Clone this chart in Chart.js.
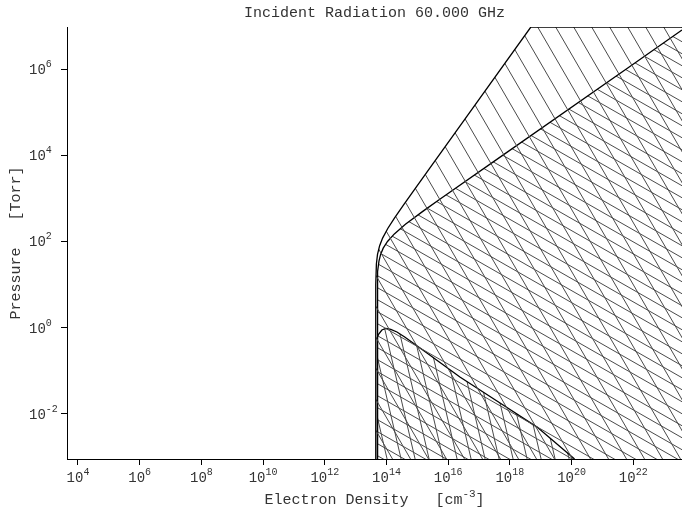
<!DOCTYPE html>
<html>
<head>
<meta charset="utf-8">
<title>Incident Radiation 60.000 GHz</title>
<script src="https://cdn.jsdelivr.net/npm/chart.js@4.4.1/dist/chart.umd.min.js"></script>
<style>
  html, body { margin: 0; padding: 0; background: #ffffff; }
  #wrap { width: 682px; height: 508px; }
</style>
</head>
<body>
<div id="wrap"><canvas id="chart" width="682" height="508"></canvas></div>
<script>
// ---- Axis extents and tick positions ----
const X_MIN = 4.4e3, X_MAX = 3.8e23;      // electron density, cm^-3
const Y_MIN = 8.9e-4, Y_MAX = 9.55e6;     // pressure, Torr
const xTickValues = [1e4, 1e6, 1e8, 1e10, 1e12, 1e14, 1e16, 1e18, 1e20, 1e22];
const yTickValues = [1e-2, 1e0, 1e2, 1e4, 1e6];

// ---- Outer boundary (widest region) ----
const outerDensity  = [4.46e13, 4.49e13, 4.71e13, 5.12e13, 6.0e13, 7.49e13, 1.10e14, 1.81e14, 3.54e14, 7.53e14, 2.5e15, 5.0e16, 4.79e18, 3.8e23];
const outerPressure = [8.9e-4,  10,      30,      50,      80,     120,     200,     350,     700,     1500,    5000,   1e5,    9.55e6,  9.55e6];

// ---- Inner boundary ----
const innerDensity  = [5.0e13, 5.06e13, 5.23e13, 5.71e13, 6.45e13, 7.83e13, 1.08e14, 1.80e14, 4.11e14, 1.5e15, 5.8e15, 5.8e17, 5.8e21, 3.8e23];
const innerPressure = [8.9e-4, 10,      20,      35,      50,      70,      100,     150,     250,     500,    1000,   1e4,    1e6,    8.1e6];

// ---- Low-pressure region ----
const lowDensity  = [5.0e13, 5.0e13, 5.15e13, 5.6e13, 7.1e13, 9.5e13, 1.38e14, 2.18e14, 3.9e14, 2.05e15, 2.4e16, 4.8e17, 7.6e18, 1.25e20];
const lowPressure = [8.9e-4, 0.44,   0.60,    0.71,   0.88,   0.955,  0.91,    0.79,    0.605,  0.258,   0.0714, 0.0178, 0.0049, 8.9e-4];

const TEXT_COLOR = '#333333';
const FONT = '"Liberation Mono", "DejaVu Sans Mono", monospace';

// Repeating line hatch: one line per w x h tile, falling to the right.
function hatch(w, h, color) {
  const c = document.createElement('canvas');
  c.width = w; c.height = h;
  const g = c.getContext('2d');
  g.strokeStyle = color;
  g.lineWidth = 1;
  g.beginPath();
  for (let k = -1; k <= 1; k++) {
    g.moveTo(-w + k * w, -h);
    g.lineTo(2 * w + k * w, 2 * h);
  }
  g.stroke();
  return g.createPattern(c, 'repeat');
}

function toPoints(xs, ys) {
  return xs.map((x, i) => ({ x: x, y: ys[i] }));
}

// Power-of-ten label: "10" followed by a raised exponent.
function powerLabel(v) {
  const e = Math.round(Math.log10(v));
  return { base: '10', exp: String(e) };
}

const textPlugin = {
  id: 'axisText',
  afterDraw(chart) {
    const ctx = chart.ctx;
    const xs = chart.scales.x, ys = chart.scales.y;
    const area = chart.chartArea;
    const baseFont = '14px ' + FONT;
    const expFont = '10px ' + FONT;
    ctx.save();
    ctx.fillStyle = TEXT_COLOR;
    ctx.textBaseline = 'alphabetic';
    ctx.textAlign = 'left';

    // x tick labels, centred under each tick
    xTickValues.forEach(v => {
      const px = xs.getPixelForValue(v);
      const lab = powerLabel(v);
      ctx.font = baseFont; const wb = ctx.measureText(lab.base).width;
      ctx.font = expFont;  const we = ctx.measureText(lab.exp).width;
      const x0 = px - (wb + we) / 2;
      const by = 482;
      ctx.font = baseFont; ctx.fillText(lab.base, x0, by);
      ctx.font = expFont;  ctx.fillText(lab.exp, x0 + wb, by - 7);
    });

    // y tick labels, "10" aligned on a common left edge
    yTickValues.forEach(v => {
      const py = ys.getPixelForValue(v);
      const lab = powerLabel(v);
      ctx.font = baseFont; const wb = ctx.measureText(lab.base).width;
      const x0 = 29;
      const by = py + 5;
      ctx.fillText(lab.base, x0, by);
      ctx.font = expFont; ctx.fillText(lab.exp, x0 + wb, by - 7);
    });

    // chart title
    const cx = (area.left + area.right) / 2;
    ctx.font = '15px ' + FONT;
    ctx.textAlign = 'center';
    ctx.fillText('Incident Radiation 60.000 GHz', cx, 17);

    // x axis title with superscript unit
    const t1 = 'Electron Density   [cm', t2 = '-3', t3 = ']';
    ctx.textAlign = 'left';
    ctx.font = '15px ' + FONT; const w1 = ctx.measureText(t1).width; const w3 = ctx.measureText(t3).width;
    ctx.font = '11px ' + FONT; const w2 = ctx.measureText(t2).width;
    const sx = cx - (w1 + w2 + w3) / 2;
    ctx.font = '15px ' + FONT; ctx.fillText(t1, sx, 504);
    ctx.font = '11px ' + FONT; ctx.fillText(t2, sx + w1, 497);
    ctx.font = '15px ' + FONT; ctx.fillText(t3, sx + w1 + w2, 504);

    // y axis title
    ctx.save();
    ctx.translate(16, (area.top + area.bottom) / 2);
    ctx.rotate(-Math.PI / 2);
    ctx.textAlign = 'center';
    ctx.textBaseline = 'middle';
    ctx.font = '15px ' + FONT;
    ctx.fillText('Pressure   [Torr]', 0, 0);
    ctx.restore();

    ctx.restore();
  }
};

const HATCH_COLOR = '#4a4a4a';
const ctx = document.getElementById('chart').getContext('2d');

const lineStyle = {
  showLine: true,
  pointRadius: 0,
  borderColor: '#000000',
  borderWidth: 1.3,
  tension: 0,
  fill: 'start'
};

new Chart(ctx, {
  type: 'scatter',
  data: {
    datasets: [
      Object.assign({ label: 'outer', data: toPoints(outerDensity, outerPressure),
        backgroundColor: hatch(18, 31, HATCH_COLOR) }, lineStyle),
      Object.assign({ label: 'inner', data: toPoints(innerDensity, innerPressure),
        backgroundColor: hatch(21, 12, HATCH_COLOR) }, lineStyle),
      Object.assign({ label: 'low', data: toPoints(lowDensity, lowPressure),
        backgroundColor: hatch(14, 60, HATCH_COLOR) }, lineStyle)
    ]
  },
  options: {
    responsive: false,
    animation: false,
    devicePixelRatio: 1,
    layout: { padding: { top: 27, left: 0, right: 0, bottom: 0 } },
    plugins: {
      legend: { display: false },
      tooltip: { enabled: false },
      title: { display: false }
    },
    scales: {
      x: {
        type: 'logarithmic',
        position: 'bottom',
        min: X_MIN, max: X_MAX,
        afterBuildTicks: s => { s.ticks = xTickValues.map(v => ({ value: v })); },
        afterFit: s => { s.height = 49; },
        ticks: { display: false },
        grid: { display: true, drawOnChartArea: false, drawTicks: true, tickLength: 6, tickColor: '#000000', tickWidth: 1 },
        border: { display: true, color: '#000000', width: 1 }
      },
      y: {
        type: 'logarithmic',
        position: 'left',
        min: Y_MIN, max: Y_MAX,
        afterBuildTicks: s => { s.ticks = yTickValues.map(v => ({ value: v })); },
        afterFit: s => { s.width = 67; },
        ticks: { display: false },
        grid: { display: true, drawOnChartArea: false, drawTicks: true, tickLength: 6, tickColor: '#000000', tickWidth: 1 },
        border: { display: true, color: '#000000', width: 1 }
      }
    }
  },
  plugins: [textPlugin]
});
</script>
</body>
</html>
